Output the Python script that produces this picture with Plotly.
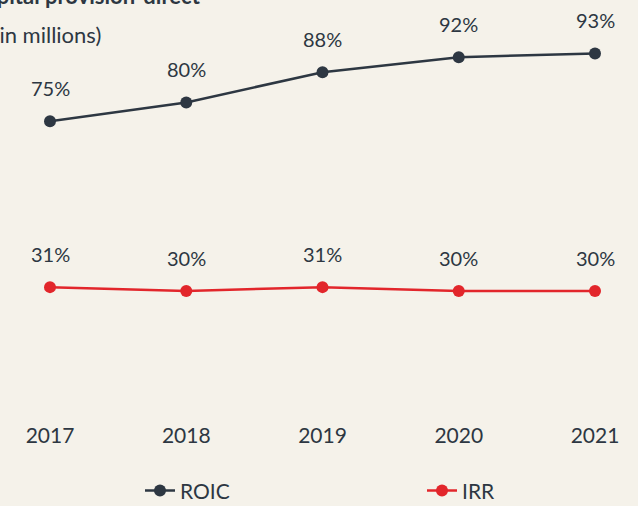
import plotly.graph_objects as go

years = ["2017", "2018", "2019", "2020", "2021"]
roic = [75, 80, 88, 92, 93]
irr = [31, 30, 31, 30, 30]

BG = "#f5f2ea"
DARK = "#2d3742"
RED = "#e2262b"
FONT = "Lato"

fig = go.Figure()
fig.add_trace(go.Scatter(
    x=years, y=roic, name="ROIC", mode="lines+markers",
    line=dict(color=DARK, width=2.5), marker=dict(size=12, color=DARK),
    cliponaxis=False, legend="legend",
))
fig.add_trace(go.Scatter(
    x=years, y=irr, name="IRR", mode="lines+markers",
    line=dict(color=RED, width=2.5), marker=dict(size=12, color=RED),
    cliponaxis=False, legend="legend2",
))

for series in (roic, irr):
    for i, v in enumerate(series):
        fig.add_annotation(x=i, y=v, text=f"{v}%", showarrow=False,
                           yshift=33, xanchor="center", yanchor="middle",
                           font=dict(size=20, color=DARK, family=FONT))

legend_common = dict(orientation="h", xref="container", yref="container",
                     xanchor="left", y=0.03, yanchor="middle",
                     font=dict(size=21, color=DARK, family=FONT),
                     bgcolor="rgba(0,0,0,0)")

fig.update_layout(
    width=638, height=506,
    paper_bgcolor=BG, plot_bgcolor=BG,
    margin=dict(l=50, r=43, t=27, b=102, autoexpand=False),
    font=dict(family=FONT, color=DARK, size=20),
    showlegend=True,
    legend=dict(x=140 / 638, **legend_common),
    legend2=dict(x=422 / 638, **legend_common),
    xaxis=dict(type="category", range=[0, 4], showgrid=False, zeroline=False, showline=False,
               ticks="outside", ticklen=13, tickcolor=BG,
               tickfont=dict(size=21, color=DARK, family=FONT)),
    yaxis=dict(range=[0, 100], visible=False),
)

fig.add_annotation(text="<b>Capital provision-direct</b>", xref="paper", yref="paper",
                   x=0.281, y=1.083, xanchor="right", yanchor="middle", showarrow=False,
                   font=dict(size=22, color=DARK, family=FONT))
fig.add_annotation(text="(US$ in millions)", xref="paper", yref="paper",
                   x=0.097, y=0.979, xanchor="right", yanchor="middle", showarrow=False,
                   font=dict(size=22, color=DARK, family=FONT))

fig.write_html("out.html", config={"displayModeBar": False},
               post_script="document.body.style.margin='0';")
